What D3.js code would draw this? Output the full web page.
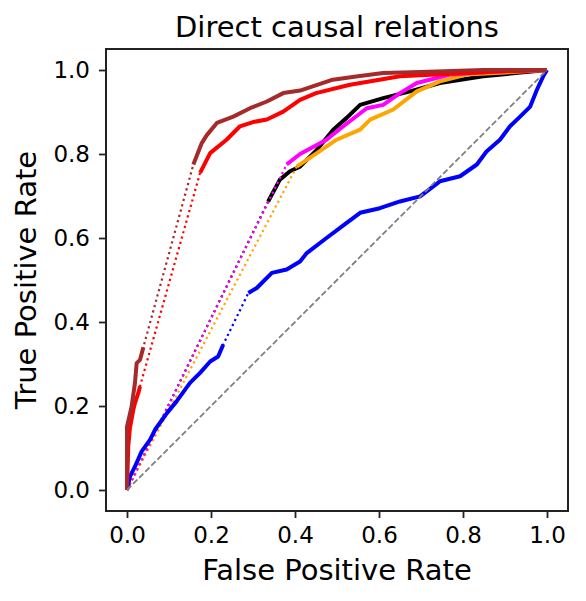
<!DOCTYPE html>
<html>
<head>
<meta charset="utf-8">
<script src="https://cdn.jsdelivr.net/npm/d3@7"></script>
<style>
  body { margin: 0; background: #fff; }
  svg { display: block; font-family: "DejaVu Sans", sans-serif; }
</style>
</head>
<body>
<div id="vis"></div>
<script>
// curvas ROC: [FPR, TPR]
const brown = [[0,0],[0,0.151],[0.011,0.199],[0.019,0.255],[0.023,0.302],[0.031,0.31],[0.039,0.34],
  [0.158,0.775],[0.178,0.826],[0.19,0.845],[0.214,0.874],[0.253,0.889],[0.293,0.909],[0.333,0.925],
  [0.372,0.945],[0.412,0.951],[0.49,0.977],[0.55,0.985],[0.61,0.993],[0.7,0.995],[0.848,1.0],[1,1]];

const red = [[0,0],[0.003,0.104],[0.007,0.148],[0.015,0.191],[0.019,0.207],[0.027,0.231],[0.031,0.247],
  [0.174,0.755],[0.198,0.802],[0.237,0.834],[0.269,0.866],[0.3,0.876],[0.333,0.882],[0.372,0.901],
  [0.412,0.929],[0.45,0.945],[0.531,0.965],[0.65,0.985],[0.809,0.993],[0.9,0.997],[1,1]];

const black = [[0,0],[0.336,0.687],[0.364,0.739],[0.388,0.759],[0.412,0.770],[0.452,0.81],[0.491,0.858],
  [0.523,0.886],[0.555,0.917],[0.61,0.933],[0.674,0.949],[0.745,0.969],[0.848,0.985],[1,1]];

const magenta = [[0,0],[0.38,0.775],[0.412,0.80],[0.475,0.834],[0.515,0.866],[0.571,0.909],[0.61,0.917],
  [0.65,0.945],[0.69,0.969],[0.769,0.989],[0.888,0.997],[1,1]];

const orange = [[0,0],[0.404,0.77],[0.452,0.802],[0.499,0.834],[0.555,0.858],[0.579,0.882],[0.634,0.906],
  [0.69,0.949],[0.745,0.973],[0.809,0.989],[1,1]];

const blue = [[0,0],[0.007,0.032],[0.019,0.056],[0.035,0.092],[0.055,0.12],[0.067,0.144],[0.095,0.183],
  [0.118,0.211],[0.15,0.255],[0.174,0.279],[0.198,0.306],[0.217,0.318],[0.229,0.346],[0.289,0.469],
  [0.309,0.481],[0.345,0.517],[0.38,0.525],[0.412,0.544],[0.428,0.564],[0.475,0.6],[0.523,0.636],
  [0.555,0.66],[0.602,0.671],[0.65,0.687],[0.698,0.699],[0.745,0.735],[0.793,0.747],[0.833,0.775],
  [0.856,0.806],[0.888,0.834],[0.912,0.866],[0.936,0.889],[0.96,0.913],[0.976,0.953],[0.991,0.985],[1,1]];

const chance = [[0,0],[1,1]];
const ticks = [0, 0.2, 0.4, 0.6, 0.8, 1.0];

// orden de dibujo
const series = [
  { pts: black, color: "black" },
  { pts: orange, color: "orange" },
  { pts: magenta, color: "magenta" },
  { pts: blue, color: "blue" },
  { pts: red, color: "red" },
  { pts: brown, color: "brown" }
];

const W = 586, H = 601;
const L = 106, R = 568, T = 49, B = 511;

const svg = d3.select("#vis").append("svg")
  .attr("width", W).attr("height", H);

const x = d3.scaleLinear().domain([-0.05, 1.05]).range([L, R]);
const y = d3.scaleLinear().domain([-0.05, 1.05]).range([B, T]);

const line = d3.line().x(d => x(d[0])).y(d => y(d[1]));

// partir en tramos donde hay saltos grandes (ahi solo queda la linea punteada)
function segments(pts) {
  const out = [[pts[0]]];
  for (let i = 1; i < pts.length; i++) {
    const dx = pts[i][0] - pts[i-1][0], dy = pts[i][1] - pts[i-1][1];
    if (dx > 0.04 && dy > 0.1) out.push([]);
    out[out.length - 1].push(pts[i]);
  }
  return out.filter(s => s.length > 1);
}

const plot = svg.append("g");

series.forEach(s => {
  plot.append("path")
    .attr("d", line(s.pts))
    .attr("fill", "none")
    .attr("stroke", s.color)
    .attr("stroke-width", 2.2)
    .attr("stroke-dasharray", "2.2,3.3");
  segments(s.pts).forEach(seg => {
    plot.append("path")
      .attr("d", line(seg))
      .attr("fill", "none")
      .attr("stroke", s.color)
      .attr("stroke-width", 4)
      .attr("stroke-linejoin", "round");
  });
});

plot.append("path")
  .attr("d", line(chance))
  .attr("fill", "none")
  .attr("stroke", "gray")
  .attr("stroke-width", 1.8)
  .attr("stroke-dasharray", "6,2.6");

// ejes
const fmt = d3.format(".1f");
const gx = svg.append("g").attr("transform", `translate(0,${B})`)
  .call(d3.axisBottom(x).tickValues(ticks).tickFormat(fmt).tickSize(7).tickPadding(9).tickSizeOuter(0));
const gy = svg.append("g").attr("transform", `translate(${L},0)`)
  .call(d3.axisLeft(y).tickValues(ticks).tickFormat(fmt).tickSize(7).tickPadding(9).tickSizeOuter(0));

[gx, gy].forEach(g => {
  g.select(".domain").remove();
  g.selectAll("line").attr("stroke", "#222").attr("stroke-width", 1.8);
  g.selectAll("text").attr("fill", "#000").style("font-size", "23px")
    .style("font-family", "'DejaVu Sans', sans-serif");
});

svg.append("rect")
  .attr("x", L).attr("y", T).attr("width", R - L).attr("height", B - T)
  .attr("fill", "none").attr("stroke", "#222").attr("stroke-width", 2);

svg.append("text")
  .attr("x", (L + R) / 2).attr("y", 37)
  .attr("text-anchor", "middle")
  .style("font-size", "29px")
  .text("Direct causal relations");

svg.append("text")
  .attr("x", (L + R) / 2).attr("y", 580)
  .attr("text-anchor", "middle")
  .style("font-size", "29px")
  .text("False Positive Rate");

svg.append("text")
  .attr("transform", `translate(36,${(T + B) / 2}) rotate(-90)`)
  .attr("text-anchor", "middle")
  .style("font-size", "29px")
  .text("True Positive Rate");
</script>
</body>
</html>
